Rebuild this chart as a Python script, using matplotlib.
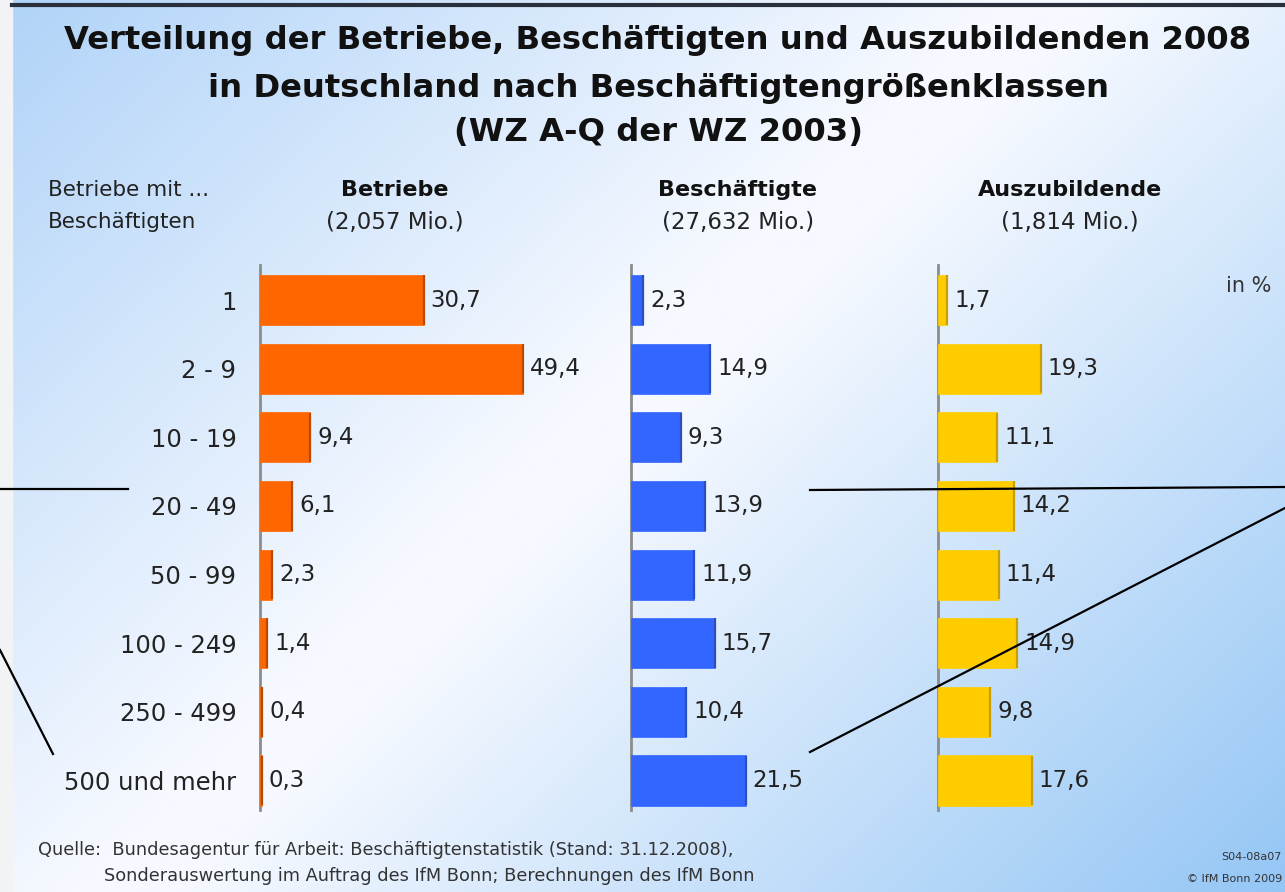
import numpy as np
import matplotlib
matplotlib.use("Agg")
import matplotlib.pyplot as plt
from matplotlib.patches import Rectangle

plt.rcParams['font.family'] = ['DejaVu Sans']

# ---------------- data ----------------
categories = ["1", "2 - 9", "10 - 19", "20 - 49", "50 - 99", "100 - 249", "250 - 499", "500 und mehr"]
betriebe = [30.7, 49.4, 9.4, 6.1, 2.3, 1.4, 0.4, 0.3]
beschaeftigte = [2.3, 14.9, 9.3, 13.9, 11.9, 15.7, 10.4, 21.5]
auszubildende = [1.7, 19.3, 11.1, 14.2, 11.4, 14.9, 9.8, 17.6]
panel_titles = ["Betriebe", "Beschäftigte", "Auszubildende"]
panel_totals = ["(2,057 Mio.)", "(27,632 Mio.)", "(1,814 Mio.)"]
title_lines = ["Verteilung der Betriebe, Beschäftigten und Auszubildenden 2008",
               "in Deutschland nach Beschäftigtengrößenklassen",
               "(WZ A-Q der WZ 2003)"]
source_lines = ["Quelle:  Bundesagentur für Arbeit: Beschäftigtenstatistik (Stand: 31.12.2008),",
                "Sonderauswertung im Auftrag des IfM Bonn; Berechnungen des IfM Bonn"]
credit_lines = ["S04-08a07", "© IfM Bonn 2009"]

W, H = 1285, 892
fig = plt.figure(figsize=(W / 100, H / 100), dpi=100)

# ---------------- background gradient ----------------
bg = fig.add_axes([0, 0, 1, 1], zorder=-10)
yy, xx = np.mgrid[0:1:300j, 0:1:400j]
u = 0.58 * xx + 0.42 * yy
c_tl = np.array([176, 211, 248]) / 255
c_mid = np.array([246, 249, 255]) / 255
c_br = np.array([148, 198, 245]) / 255
t1 = np.clip(u / 0.45, 0, 1)[..., None]
t2 = np.clip((u - 0.5) / 0.5, 0, 1)[..., None]
img = np.where(u[..., None] < 0.45, c_tl * (1 - t1) + c_mid * t1,
               np.where(u[..., None] < 0.5, c_mid, c_mid * (1 - t2) + c_br * t2))
bg.imshow(img, extent=[0, W, H, 0], aspect='auto', interpolation='bilinear')
bg.set_xlim(0, W)
bg.set_ylim(H, 0)
bg.axis('off')
bg.add_patch(Rectangle((0, 0), 12, H, color='#f2f3f5', zorder=2))
bg.plot([12, W], [5, 5], color='#2a2f3c', lw=3, zorder=3)

# ---------------- titles ----------------
def fy(py):
    return 1 - py / H

def fx(px):
    return px / W

for txt, py in zip(title_lines, [40, 88, 133]):
    fig.text(fx(658), fy(py), txt, ha='center', va='center', fontsize=23.2,
             fontweight='bold', color='#111111')

fig.text(fx(48), fy(190), "Betriebe mit ...", ha='left', va='center', fontsize=15.5, color='#222222')
fig.text(fx(48), fy(222), "Beschäftigten", ha='left', va='center', fontsize=15.5, color='#222222')

header_x = [395, 738, 1070]
for t, tot, px in zip(panel_titles, panel_totals, header_x):
    fig.text(fx(px), fy(190), t, ha='center', va='center', fontsize=16, fontweight='bold', color='#111111')
    fig.text(fx(px), fy(222), tot, ha='center', va='center', fontsize=16.5, color='#222222')

fig.text(fx(1226), fy(286), "in %", ha='left', va='center', fontsize=15, color='#333333')

# ---------------- panels ----------------
series = [betriebe, beschaeftigte, auszubildende]
colors = ['#ff6600', '#3366ff', '#ffcc00']
edge_dark = ['#b84a00', '#2a4fc0', '#c89f00']
lefts_px = [260, 631, 938]
ax_top, ax_bot = 265, 810
xmax = 55
width_px = 293
ypos = np.arange(len(categories))

for vals, col, dk, lp in zip(series, colors, edge_dark, lefts_px):
    ax = fig.add_axes([fx(lp), fy(ax_bot), width_px / W, (ax_bot - ax_top) / H])
    ax.set_facecolor('none')
    ax.barh(ypos, vals, height=0.73, color=col, edgecolor=col, lw=0.5, zorder=3)
    ax.vlines(vals, ypos - 0.36, ypos + 0.36, color=dk, lw=1.6, zorder=4)
    for y, v in zip(ypos, vals):
        ax.annotate(f"{v:.1f}".replace('.', ','), (v, y), xytext=(5, 0),
                    textcoords='offset points', ha='left', va='center',
                    fontsize=16.5, color='#222222')
    ax.set_xlim(0, xmax)
    ax.set_ylim(7.43, -0.51)
    for s in ['top', 'right', 'bottom']:
        ax.spines[s].set_visible(False)
    ax.spines['left'].set_color('#8c8c8c')
    ax.spines['left'].set_linewidth(2)
    ax.set_xticks([])
    ax.set_yticks([])
    if lp == lefts_px[0]:
        ax.set_yticks(ypos)
        ax.set_yticklabels(categories, fontsize=17.5, color='#222222')
        ax.tick_params(axis='y', length=0, pad=17)

# ---------------- source ----------------
fig.text(fx(38), fy(850), source_lines[0], ha='left', va='center', fontsize=12.8, color='#333333')
fig.text(fx(104), fy(876), source_lines[1], ha='left', va='center', fontsize=12.8, color='#333333')
fig.text(fx(1282), fy(857), credit_lines[0], ha='right', va='center', fontsize=8, color='#333333')
fig.text(fx(1282), fy(879), credit_lines[1], ha='right', va='center', fontsize=8, color='#333333')

# ---------------- overlay lines ----------------
overlay = [((0, 489), (128, 489)), ((0, 650), (53, 754)),
           ((810, 490), (1285, 487)), ((810, 752), (1285, 508))]
ol = fig.add_axes([0, 0, 1, 1], zorder=20)
ol.set_xlim(0, W)
ol.set_ylim(H, 0)
ol.axis('off')
for (x0, y0), (x1, y1) in overlay:
    ol.plot([x0, x1], [y0, y1], color='black', lw=1.6)

fig.savefig("out.png", dpi=100)
